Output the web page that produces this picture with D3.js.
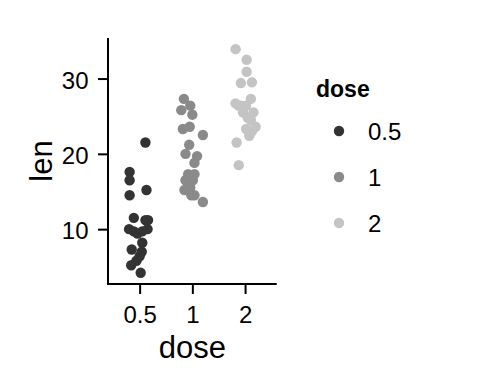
<!DOCTYPE html>
<html><head><meta charset="utf-8">
<script src="https://cdn.jsdelivr.net/npm/d3@7"></script>
<style>body{margin:0;background:#fff}svg{display:block;font-family:Arial,"Liberation Sans",sans-serif}</style>
</head><body><svg id="c" width="480" height="384"></svg>
<script>
const doses = ["0.5", "1", "2"];
const colors = ["#333333", "#8a8a8a", "#c4c4c4"];
const yTicks = [10, 20, 30];
const len05 = [21.5, 17.6, 16.5, 15.2, 14.5, 11.5, 11.2, 11.2, 10, 10, 9.7, 9.7, 9.4, 8.2, 7.3, 7.0, 6.4, 5.8, 5.2, 4.2];
const jit05 = [0.11, -0.19, -0.19, 0.13, -0.19, -0.11, 0.16, 0.11, -0.20, 0.15, -0.11, 0.05, -0.04, 0.05, -0.15, 0.04, 0, -0.06, -0.16, 0.02];
const len1 = [27.3, 26.4, 25.8, 25.2, 23.6, 23.3, 22.5, 21.2, 20, 19.7, 18.8, 17.3, 17.3, 16.5, 16.5, 15.5, 15.2, 14.5, 14.5, 13.6];
const jit1 = [-0.16, -0.04, -0.21, 0, -0.05, -0.18, 0.20, -0.06, -0.13, 0.09, 0.04, -0.08, 0.04, -0.13, 0.01, -0.04, -0.15, -0.02, 0.04, 0.20];
const len2 = [33.9, 32.5, 30.9, 29.5, 29.4, 27.3, 26.7, 26.4, 26.4, 26.4, 25.5, 25.5, 24.8, 24.5, 23.6, 23.3, 23.0, 22.4, 21.5, 18.5];
const jit2 = [-0.18, 0.03, 0.03, 0.13, -0.08, 0.11, -0.18, -0.08, 0.02, -0.12, 0.16, -0.04, 0.05, 0.11, 0.20, 0.02, 0.13, 0.08, -0.16, -0.12];

const groups = [[len05, jit05], [len1, jit1], [len2, jit2]];
const pts = [];
groups.forEach((g, i) => g[0].forEach((v, j) => pts.push({dose: doses[i], len: v, jit: g[1][j], ci: i})));

const svg = d3.select("#c");
const L = 108, R = 276.7, T = 38, B = 284;
const allLen = pts.map(d => d.len);
const lo = d3.min(allLen), hi = d3.max(allLen), pad = (hi - lo) * 0.05;
const y = d3.scaleLinear().domain([lo - pad, hi + pad]).range([B, T]);
const x = d3.scalePoint().domain(doses).range([L, R]).padding(0.6);
const color = d3.scaleOrdinal().domain(doses).range(colors);

// points
svg.append("g").selectAll("circle").data(pts).join("circle")
  .attr("cx", d => x(d.dose) + d.jit * x.step())
  .attr("cy", d => y(d.len))
  .attr("r", 5.2)
  .attr("fill", d => color(d.dose));

// axes
const yAx = svg.append("g").attr("transform", `translate(${L},0)`)
  .call(d3.axisLeft(y).tickValues(yTicks).tickSize(10).tickPadding(9.5).tickSizeOuter(0));
const xAx = svg.append("g").attr("transform", `translate(0,${B})`)
  .call(d3.axisBottom(x).tickSize(10).tickPadding(11.5).tickSizeOuter(0));
[yAx, xAx].forEach(a => {
  a.attr("font-family", null).attr("font-size", null);
  a.select(".domain").remove();
  a.selectAll("line").attr("stroke", "#000").attr("stroke-width", 2);
  a.selectAll("text").attr("fill", "#000").style("font-size", "24px");
});
yAx.selectAll("text").attr("dy", "0.4em");
svg.append("path").attr("d", `M${L},${T}V${B}H${R}`).attr("fill", "none").attr("stroke", "#000").attr("stroke-width", 2);

// axis titles
svg.append("text").attr("x", (L + R) / 2).attr("y", 358).attr("text-anchor", "middle")
  .style("font-size", "31px").text("dose");
svg.append("text").attr("transform", `translate(51.5,${(T + B) / 2}) rotate(-90)`).attr("text-anchor", "middle")
  .style("font-size", "31px").text("len");

// legend
const lg = svg.append("g");
lg.append("text").attr("x", 316).attr("y", 97).style("font-size", "23px").style("font-weight", "bold").text("dose");
doses.forEach((d, i) => {
  const cy = 131 + i * 46;
  lg.append("circle").attr("cx", 339).attr("cy", cy).attr("r", 5.2).attr("fill", color(d));
  lg.append("text").attr("x", 368).attr("y", cy + 9.3).style("font-size", "24px").text(d);
});
</script></body></html>
